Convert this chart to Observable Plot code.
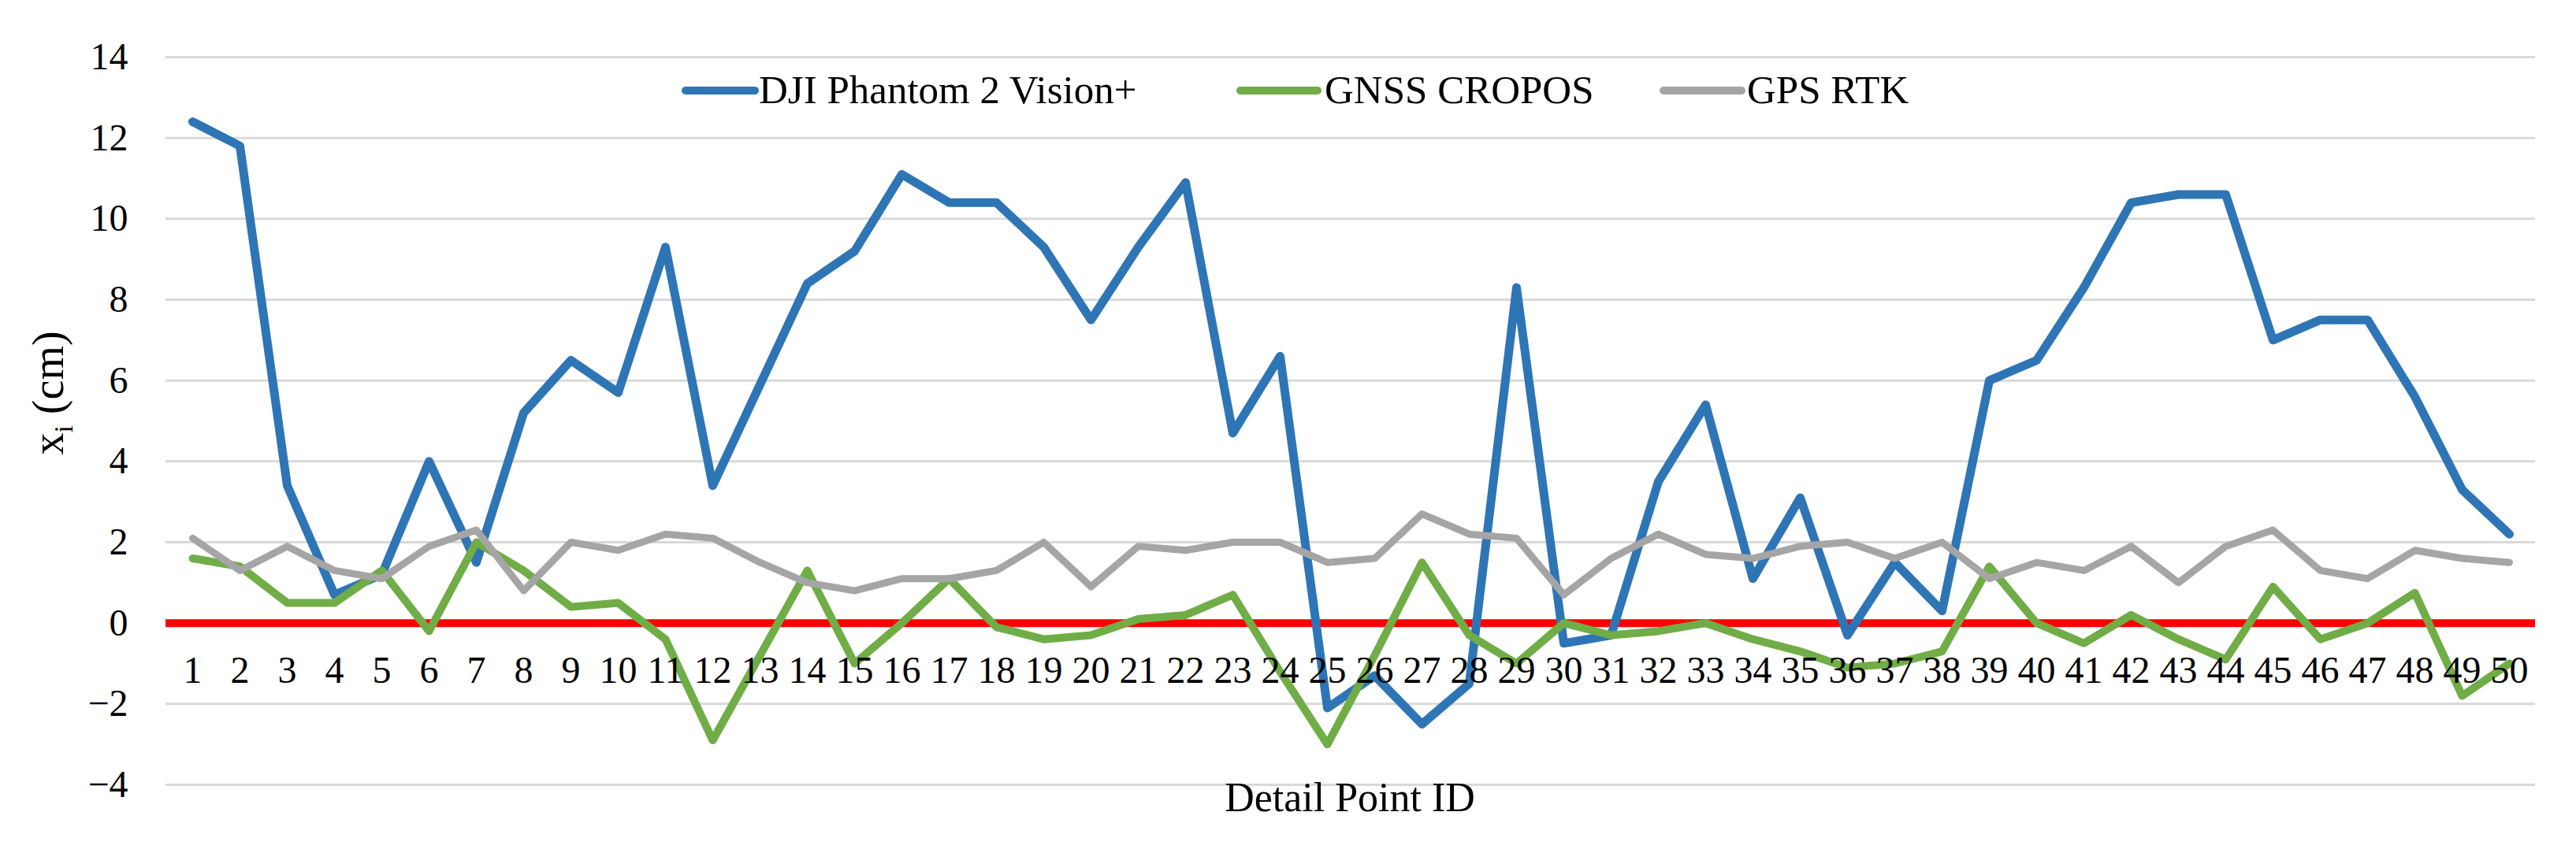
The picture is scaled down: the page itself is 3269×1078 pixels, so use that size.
<!DOCTYPE html>
<html>
<head>
<meta charset="utf-8">
<script src="https://cdn.jsdelivr.net/npm/d3@7"></script>
<script src="https://cdn.jsdelivr.net/npm/@observablehq/plot@0.6"></script>
<style>
  html, body { margin: 0; padding: 0; background: #ffffff; }
  #chart { position: relative; width: 3269px; height: 1078px; }
</style>
</head>
<body>
<div id="chart"></div>
<script>
// ---------- data ----------
const pointIds = [1,2,3,4,5,6,7,8,9,10,11,12,13,14,15,16,17,18,19,20,21,22,23,24,25,
                  26,27,28,29,30,31,32,33,34,35,36,37,38,39,40,41,42,43,44,45,46,47,48,49,50];

const seriesNames = ["DJI Phantom 2 Vision+", "GNSS CROPOS", "GPS RTK"];

const djiPhantom = [12.4, 11.8, 3.4, 0.7, 1.2, 4.0, 1.5, 5.2, 6.5, 5.7,
                    9.3, 3.4, 5.9, 8.4, 9.2, 11.1, 10.4, 10.4, 9.3, 7.5,
                    9.3, 10.9, 4.7, 6.6, -2.1, -1.3, -2.5, -1.5, 8.3, -0.5,
                    -0.3, 3.5, 5.4, 1.1, 3.1, -0.3, 1.5, 0.3, 6.0, 6.5,
                    8.3, 10.4, 10.6, 10.6, 7.0, 7.5, 7.5, 5.6, 3.3, 2.2];

const gnssCropos = [1.6, 1.4, 0.5, 0.5, 1.3, -0.2, 2.0, 1.3, 0.4, 0.5,
                    -0.4, -2.9, -0.8, 1.3, -1.0, 0.0, 1.1, -0.1, -0.4, -0.3,
                    0.1, 0.2, 0.7, -1.2, -3.0, -0.8, 1.5, -0.3, -1.0, 0.0,
                    -0.3, -0.2, 0.0, -0.4, -0.7, -1.1, -1.0, -0.7, 1.4, 0.0,
                    -0.5, 0.2, -0.4, -0.9, 0.9, -0.4, 0.0, 0.75, -1.8, -1.0];

const gpsRtk = [2.1, 1.3, 1.9, 1.3, 1.1, 1.9, 2.3, 0.8, 2.0, 1.8,
                2.2, 2.1, 1.5, 1.0, 0.8, 1.1, 1.1, 1.3, 2.0, 0.9,
                1.9, 1.8, 2.0, 2.0, 1.5, 1.6, 2.7, 2.2, 2.1, 0.7,
                1.6, 2.2, 1.7, 1.6, 1.9, 2.0, 1.6, 2.0, 1.1, 1.5,
                1.3, 1.9, 1.0, 1.9, 2.3, 1.3, 1.1, 1.8, 1.6, 1.5];

const yTicks = [-4, -2, 0, 2, 4, 6, 8, 10, 12, 14];
const xTitle = "Detail Point ID";

const seriesColors = ["#2E75B6", "#70AD47", "#A5A5A5"];
const seriesWidths = [11, 10, 9];

// ---------- table for Plot ----------
const seriesValues = [djiPhantom, gnssCropos, gpsRtk];
const rows = [];
seriesNames.forEach((name, s) => {
  pointIds.forEach((id, i) => rows.push({id, value: seriesValues[s][i], series: name}));
});

const FONT = "'Liberation Serif', 'Times New Roman', Times, serif";

const lineMarks = seriesNames.map((name, s) =>
  Plot.line(rows.filter(r => r.series === name), {
    x: "id", y: "value",
    stroke: seriesColors[s], strokeWidth: seriesWidths[s],
    strokeLinejoin: "round", strokeLinecap: "round"
  })
);

const chart = Plot.plot({
  width: 3269,
  height: 1078,
  marginLeft: 210,
  marginRight: 52,
  marginTop: 72,
  marginBottom: 82,
  style: {fontFamily: FONT, background: "#ffffff", color: "#000000"},
  x: {type: "point", domain: pointIds, padding: 0.5, axis: null},
  y: {domain: [-4, 14], axis: null, label: null},
  marks: [
    Plot.gridY(yTicks, {stroke: "#d9d9d9", strokeOpacity: 1, strokeWidth: 3}),
    Plot.axisY(yTicks, {tickSize: 0, tickPadding: 48, fontSize: 48, fill: "#000000", label: null,
                        tickFormat: d => d < 0 ? "\u2212" + Math.abs(d) : String(d)}),
    Plot.ruleY([0], {stroke: "#ff0000", strokeWidth: 10}),
    ...lineMarks,
    Plot.text(pointIds, {x: d => d, y: d => 0, dy: 60, text: d => String(d),
                         fontSize: 48, fill: "#000000"})
  ]
});

document.getElementById("chart").appendChild(chart);

// ---------- titles & legend (added onto the SVG) ----------
const svg = d3.select(chart);

svg.append("text")
  .attr("x", 1713).attr("y", 1030)
  .attr("text-anchor", "middle")
  .attr("font-family", FONT).attr("font-size", 52).attr("fill", "#000")
  .text(xTitle);

const yt = svg.append("text")
  .attr("transform", "translate(80,499) rotate(-90)")
  .attr("text-anchor", "middle")
  .attr("font-family", FONT).attr("font-size", 56).attr("fill", "#000");
yt.append("tspan").text("x");
yt.append("tspan").attr("dy", 12).attr("font-size", 34).text("i");
yt.append("tspan").attr("dy", -12).text(" (cm)");

const legendPos = [
  {x1: 870, x2: 958, tx: 963},
  {x1: 1574, x2: 1672, tx: 1681},
  {x1: 2111, x2: 2210, tx: 2217}
];
const lg = svg.append("g").attr("text-anchor", "start");
seriesNames.forEach((name, s) => {
  const p = legendPos[s];
  lg.append("line")
    .attr("x1", p.x1).attr("x2", p.x2).attr("y1", 115).attr("y2", 115)
    .attr("stroke", seriesColors[s]).attr("stroke-width", 10)
    .attr("stroke-linecap", "round");
  lg.append("text")
    .attr("x", p.tx).attr("y", 131)
    .attr("text-anchor", "start")
    .attr("font-family", FONT).attr("font-size", 51).attr("fill", "#000")
    .text(name);
});
</script>
</body>
</html>
